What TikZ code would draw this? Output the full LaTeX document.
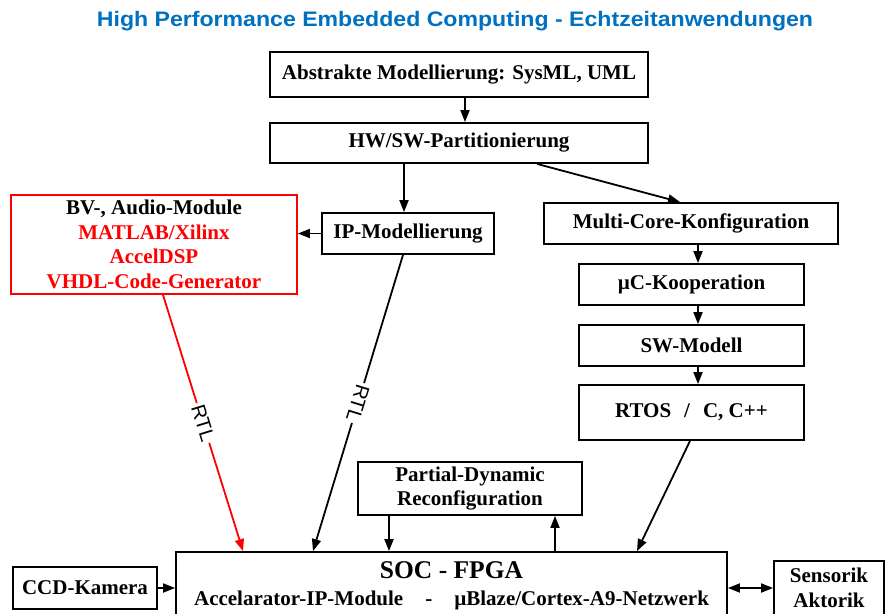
\documentclass[tikz,border=0pt]{standalone}
\usepackage{fontspec}
\setmainfont{Liberation Serif}
\newfontfamily\headfont{Liberation Sans}
\usetikzlibrary{arrows.meta}
\definecolor{titleblue}{RGB}{0,112,192}
\definecolor{pured}{RGB}{255,0,0}

\tikzset{
  box/.style={draw, line width=1.8pt, inner sep=0pt, align=center,
    font=\fontsize{21}{24.7}\selectfont\bfseries},
  flow/.style={line width=1.8pt, -{Triangle[length=12pt,width=9pt]}},
  both/.style={line width=1.8pt, {Triangle[length=12pt,width=9pt]}-{Triangle[length=12pt,width=9pt]}},
  rtl/.style={fill=white, text=black, inner sep=2pt,
    font=\headfont\fontsize{20}{20}\selectfont},
  plain/.style={inner sep=0pt, font=\fontsize{21}{24.7}\selectfont\bfseries},
}

\begin{document}
\begin{tikzpicture}[x=1pt, y=-1pt]
\useasboundingbox (0,0) rectangle (885,613);

% heading
\node[anchor=base, text=titleblue, inner sep=0pt,
  font=\headfont\bfseries\fontsize{21}{22}\selectfont] (title) at (455,27)
  {\scalebox{1.1}[1]{High Performance Embedded Computing - Echtzeitanwendungen}};

% design flow boxes
\node[box, minimum width=378pt, minimum height=45pt] (abs) at (459,74.5) {Abstrakte Modellierung: SysML, UML};
\node[box, minimum width=378pt, minimum height=40pt] (hwsw) at (459,143) {HW/SW-Partitionierung};
\node[box, minimum width=172pt, minimum height=41pt] (ip) at (408,233.5) {IP-Modellierung};
\node[box, draw=pured, minimum width=286pt, minimum height=99pt] (bvm) at (154,244.5)
  {BV-, Audio-Module\\\textcolor{pured}{MATLAB/Xilinx}\\\textcolor{pured}{AccelDSP}\\\textcolor{pured}{VHDL-Code-Generator}};
\node[box, minimum width=294pt, minimum height=41pt] (mc) at (691,223.5) {Multi-Core-Konfiguration};
\node[box, minimum width=225pt, minimum height=41pt] (uc) at (691.5,284.5) {µC-Kooperation};
\node[box, minimum width=225pt, minimum height=41pt] (sw) at (691.5,345.5) {SW-Modell};
\node[box, minimum width=225pt, minimum height=55pt] (rtos) at (691.5,412.5) {RTOS\hspace{13pt}/\hspace{13pt}C, C++};
\node[box, minimum width=224pt, minimum height=53pt] (pdr) at (470,488.5) {Partial-Dynamic\\Reconfiguration};

% target platform
\node[box, minimum width=551pt, minimum height=68pt] (soc) at (451.5,586) {};
\node[plain, anchor=base, font=\fontsize{25.5}{28}\selectfont\bfseries] (soctitle) at (451.5,578) {SOC - FPGA};
\node[plain, anchor=base] (socsub) at (451.5,605)
  {Accelarator-IP-Module\hspace{22pt}-\hspace{22pt}µBlaze/Cortex-A9-Netzwerk};
\node[box, minimum width=144pt, minimum height=42pt] (ccd) at (85,588) {CCD-Kamera};
\node[box, minimum width=110pt, minimum height=54pt] (sens) at (829,588) {Sensorik\\Aktorik};

% connectors
\draw[flow] ([xshift=6pt]abs.south) -- ([xshift=6pt]hwsw.north);
\draw[flow] ([xshift=-55pt]hwsw.south) -- ([xshift=-4pt]ip.north);
\draw[flow] (ip.west) -- (ip.west -| bvm.east);
\draw[flow] ([xshift=78pt]hwsw.south) -- ([xshift=-11pt]mc.north);
\draw[flow] ([xshift=7pt]mc.south) -- ([xshift=6.5pt]uc.north);
\draw[flow] ([xshift=6.5pt]uc.south) -- ([xshift=6.5pt]sw.north);
\draw[flow] ([xshift=6.5pt]sw.south) -- ([xshift=6.5pt]rtos.north);
\draw[flow] ([xshift=-1.5pt]rtos.south) -- ([xshift=185.5pt]soc.north);
\draw[flow] ([xshift=-81pt]pdr.south) -- ([xshift=-62.5pt]soc.north);
\draw[flow] ([xshift=103.5pt]soc.north) -- ([xshift=85pt]pdr.south);
\draw[flow, pured] ([xshift=9pt]bvm.south) -- node[rtl, rotate=-73, pos=0.5] {RTL} ([xshift=-208.5pt]soc.north);
\draw[flow] ([xshift=-5pt]ip.south) -- node[rtl, rotate=-107, pos=0.5] {RTL} ([xshift=-138.5pt]soc.north);
\draw[flow] (ccd.east) -- (ccd.east -| soc.west);
\draw[both] (sens.west) -- (sens.west -| soc.east);
\end{tikzpicture}
\end{document}
